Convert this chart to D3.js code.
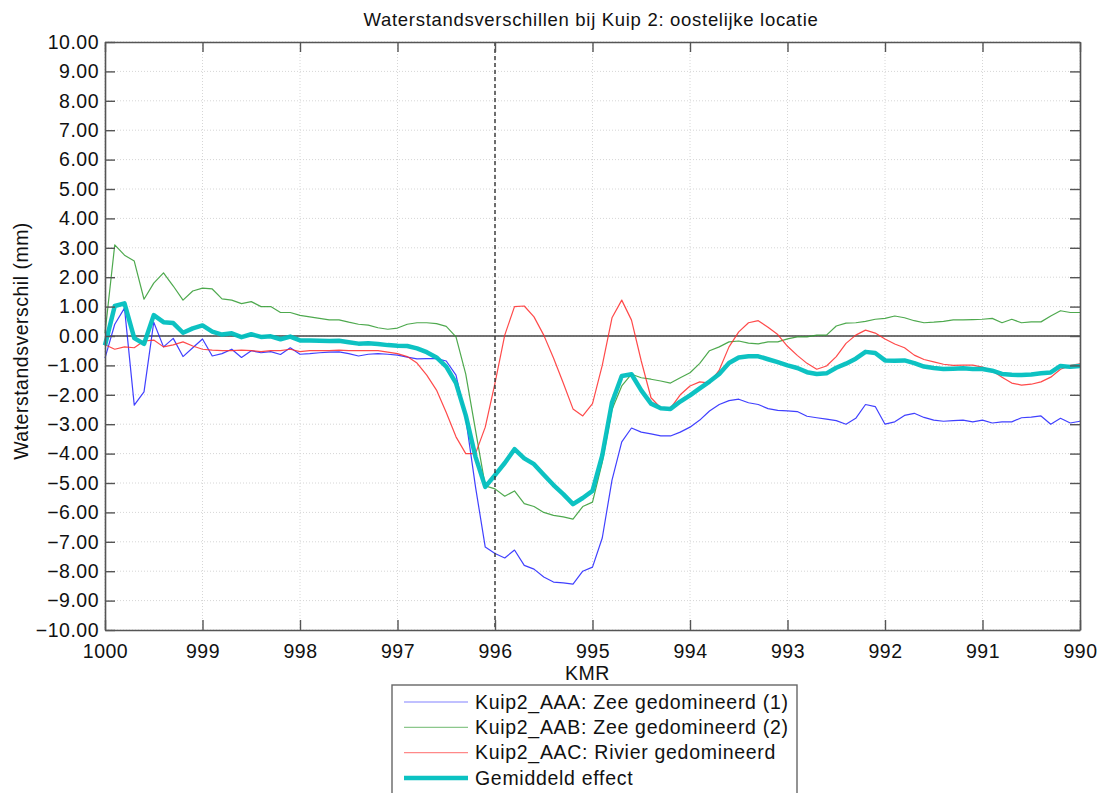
<!DOCTYPE html>
<html>
<head>
<meta charset="utf-8">
<script src="https://cdn.jsdelivr.net/npm/d3@7"></script>
<style>
    body { margin: 0; background: #fff; font-family: "Liberation Sans", Arial, sans-serif; }
    #chart-area { width: 1100px; height: 793px; }
</style>
</head>
<body>
<div id="chart-area"></div>
<script>
// Waterstandsverschillen Kuip 2 (step 0.1 km)
let kmr = [
    1000.0, 999.9, 999.8, 999.7, 999.6, 999.5, 999.4, 999.3, 999.2, 999.1,
    999.0, 998.9, 998.8, 998.7, 998.6, 998.5, 998.4, 998.3, 998.2, 998.1,
    998.0, 997.9, 997.8, 997.7, 997.6, 997.5, 997.4, 997.3, 997.2, 997.1,
    997.0, 996.9, 996.8, 996.7, 996.6, 996.5, 996.4, 996.3, 996.2, 996.1,
    996.0, 995.9, 995.8, 995.7, 995.6, 995.5, 995.4, 995.3, 995.2, 995.1,
    995.0, 994.9, 994.8, 994.7, 994.6, 994.5, 994.4, 994.3, 994.2, 994.1,
    994.0, 993.9, 993.8, 993.7, 993.6, 993.5, 993.4, 993.3, 993.2, 993.1,
    993.0, 992.9, 992.8, 992.7, 992.6, 992.5, 992.4, 992.3, 992.2, 992.1,
    992.0, 991.9, 991.8, 991.7, 991.6, 991.5, 991.4, 991.3, 991.2, 991.1,
    991.0, 990.9, 990.8, 990.7, 990.6, 990.5, 990.4, 990.3, 990.2, 990.1,
    990.0
];

let aaa = [
    -0.75, 0.4, 0.95, -2.35, -1.9, 0.47, -0.37, -0.08, -0.7, -0.4,
    -0.1, -0.68, -0.6, -0.45, -0.73, -0.5, -0.57, -0.53, -0.63, -0.4,
    -0.62, -0.6, -0.57, -0.55, -0.54, -0.6, -0.68, -0.62, -0.6, -0.62,
    -0.65, -0.72, -0.78, -0.77, -0.77, -0.85, -1.33, -2.8, -5.13, -7.18,
    -7.4, -7.55, -7.28, -7.8, -7.93, -8.2, -8.37, -8.4, -8.44, -8.0,
    -7.86, -6.87, -4.9, -3.6, -3.13, -3.27, -3.33, -3.4, -3.4, -3.27,
    -3.1, -2.86, -2.55, -2.33, -2.2, -2.15, -2.27, -2.33, -2.47, -2.53,
    -2.55, -2.57, -2.73, -2.78, -2.83, -2.88, -3.0, -2.8, -2.33, -2.4,
    -3.0, -2.92, -2.7, -2.63, -2.77, -2.86, -2.9, -2.88, -2.86, -2.92,
    -2.86, -2.96, -2.92, -2.92, -2.78, -2.76, -2.72, -3.0, -2.8, -2.96,
    -2.9
];

let aab = [
    0.1, 3.1, 2.75, 2.55, 1.25, 1.8, 2.15, 1.7, 1.22, 1.53,
    1.63, 1.6, 1.26, 1.22, 1.1, 1.17, 1.0, 1.0, 0.8, 0.8,
    0.7, 0.65, 0.6, 0.55, 0.55, 0.47, 0.4, 0.37, 0.28, 0.23,
    0.27, 0.4, 0.45, 0.45, 0.42, 0.33, -0.03, -1.3, -3.2, -5.1,
    -5.2, -5.45, -5.27, -5.7, -5.8, -6.0, -6.1, -6.15, -6.23, -5.8,
    -5.65, -4.3, -2.5, -1.7, -1.3, -1.42, -1.47, -1.53, -1.6, -1.42,
    -1.25, -0.93, -0.5, -0.37, -0.2, -0.17, -0.24, -0.27, -0.2, -0.2,
    -0.1, -0.03, -0.03, 0.03, 0.03, 0.34, 0.44, 0.45, 0.5, 0.57,
    0.6, 0.68, 0.62, 0.52, 0.45, 0.47, 0.5, 0.55, 0.55, 0.56,
    0.57, 0.6, 0.45, 0.57, 0.45, 0.48, 0.48, 0.68, 0.86, 0.8,
    0.8
];

let aac = [
    -0.3, -0.45, -0.37, -0.4, -0.17, -0.14, -0.37, -0.3, -0.2, -0.34,
    -0.45, -0.48, -0.5, -0.5, -0.48, -0.5, -0.53, -0.5, -0.5, -0.45,
    -0.53, -0.5, -0.5, -0.5, -0.48, -0.5, -0.5, -0.5, -0.5, -0.55,
    -0.6, -0.7, -0.92, -1.33, -1.84, -2.6, -3.43, -4.0, -4.0, -3.1,
    -1.6, 0.03, 1.0, 1.02, 0.65, 0.03, -0.75, -1.6, -2.48, -2.72,
    -2.3, -1.0, 0.62, 1.22, 0.54, -0.85, -2.1, -2.45, -2.45, -2.0,
    -1.7, -1.56, -1.6, -1.16, -0.37, 0.14, 0.45, 0.52, 0.3, 0.05,
    -0.35, -0.66, -0.93, -1.13, -1.02, -0.7, -0.25, 0.03, 0.2, 0.1,
    -0.1, -0.27, -0.4, -0.65, -0.8, -0.88, -0.96, -1.0, -0.99, -0.99,
    -1.06, -1.18, -1.4, -1.6, -1.67, -1.64, -1.56, -1.4, -1.13, -1.0,
    -0.95
];

let gemiddeld = [
    -0.32, 1.02, 1.11, -0.07, -0.27, 0.71, 0.47, 0.44, 0.11, 0.26,
    0.36, 0.15, 0.05, 0.09, -0.04, 0.06, -0.03, -0.01, -0.11, -0.02,
    -0.15, -0.15, -0.16, -0.17, -0.16, -0.21, -0.26, -0.25, -0.27, -0.31,
    -0.33, -0.34, -0.42, -0.55, -0.73, -1.04, -1.6, -2.7, -4.11, -5.13,
    -4.73, -4.32, -3.85, -4.16, -4.36, -4.72, -5.07, -5.38, -5.72, -5.51,
    -5.27, -4.06, -2.26, -1.36, -1.3, -1.85, -2.3, -2.46, -2.48, -2.23,
    -2.02, -1.78, -1.55, -1.29, -0.92, -0.73, -0.69, -0.69, -0.79, -0.89,
    -1.0, -1.09, -1.23, -1.29, -1.27, -1.08, -0.94, -0.77, -0.54, -0.58,
    -0.83, -0.84, -0.83, -0.92, -1.04, -1.09, -1.12, -1.11, -1.1, -1.12,
    -1.12, -1.18, -1.29, -1.32, -1.33, -1.31, -1.27, -1.24, -1.02, -1.05,
    -1.02
];

let xTicks = [1000, 999, 998, 997, 996, 995, 994, 993, 992, 991, 990];
let yTicks = [-10, -9, -8, -7, -6, -5, -4, -3, -2, -1, 0, 1, 2, 3, 4, 5, 6, 7, 8, 9, 10];
let seriesNames = [
    "Kuip2_AAA: Zee gedomineerd (1)",
    "Kuip2_AAB: Zee gedomineerd (2)",
    "Kuip2_AAC: Rivier gedomineerd",
    "Gemiddeld effect"
];
let seriesColors = ["#1f1fff", "#2f9a2f", "#ff2a2a", "#00bfbf"];
let seriesWidths = [1.2, 1.2, 1.2, 4.5];

class LineChart {
    constructor(parentElement) {
        this.parentElement = parentElement;
        this.series = [aaa, aab, aac, gemiddeld];
        this.initVis();
    }

    initVis() {
        let vis = this;

        vis.margin = { top: 42, right: 20, bottom: 163, left: 105 };
        vis.width = 1100 - vis.margin.left - vis.margin.right;
        vis.height = 793 - vis.margin.top - vis.margin.bottom;

        vis.root = d3.select("#" + vis.parentElement).append("svg")
            .attr("width", 1100)
            .attr("height", 793);

        vis.svg = vis.root.append("g")
            .attr("transform", `translate(${vis.margin.left}, ${vis.margin.top})`);

        vis.x = d3.scaleLinear().domain([1000, 990]).range([0, vis.width]);
        vis.y = d3.scaleLinear().domain([-10, 10]).range([vis.height, 0]);

        // dotted grid
        vis.svg.append("g").attr("class", "grid")
            .selectAll("line.gy").data(yTicks).enter().append("line")
            .attr("x1", 0).attr("x2", vis.width)
            .attr("y1", d => vis.y(d)).attr("y2", d => vis.y(d))
            .attr("stroke", "#d6d6d6").attr("stroke-dasharray", "1,2");
        vis.svg.select(".grid")
            .selectAll("line.gx").data(xTicks).enter().append("line")
            .attr("x1", d => vis.x(d)).attr("x2", d => vis.x(d))
            .attr("y1", 0).attr("y2", vis.height)
            .attr("stroke", "#d6d6d6").attr("stroke-dasharray", "1,2");

        // zero line
        vis.svg.append("line")
            .attr("x1", 0).attr("x2", vis.width)
            .attr("y1", vis.y(0)).attr("y2", vis.y(0))
            .attr("stroke", "#444").attr("stroke-width", 1.6);

        // series
        vis.line = d3.line()
            .x((d, i) => vis.x(kmr[i]))
            .y(d => vis.y(d));

        vis.svg.selectAll(".series")
            .data(vis.series)
            .enter().append("path")
            .attr("class", "series")
            .attr("d", d => vis.line(d))
            .attr("fill", "none")
            .attr("stroke", (d, i) => seriesColors[i])
            .attr("stroke-width", (d, i) => seriesWidths[i])
            .attr("stroke-linejoin", "round")
            .attr("opacity", (d, i) => i === 3 ? 0.95 : 0.85);

        // dashed marker at km 996
        vis.svg.append("line")
            .attr("x1", vis.x(996)).attr("x2", vis.x(996))
            .attr("y1", 0).attr("y2", vis.height)
            .attr("stroke", "#333").attr("stroke-width", 1.4)
            .attr("stroke-dasharray", "4,3");

        // axes with inward ticks on all sides
        let fmt = d3.format(".2f");
        vis.svg.append("g")
            .attr("class", "y-axis")
            .call(d3.axisLeft(vis.y).tickValues(yTicks).tickFormat(fmt).tickSizeInner(-10).tickSizeOuter(0).tickPadding(6));
        vis.svg.append("g")
            .attr("class", "y-axis-r")
            .attr("transform", `translate(${vis.width},0)`)
            .call(d3.axisRight(vis.y).tickValues(yTicks).tickFormat("").tickSizeInner(-10).tickSizeOuter(0));
        vis.svg.append("g")
            .attr("class", "x-axis")
            .attr("transform", `translate(0,${vis.height})`)
            .call(d3.axisBottom(vis.x).tickValues(xTicks).tickFormat(d3.format("d")).tickSizeInner(-10).tickSizeOuter(0).tickPadding(10));
        vis.svg.append("g")
            .attr("class", "x-axis-t")
            .call(d3.axisTop(vis.x).tickValues(xTicks).tickFormat("").tickSizeInner(-10).tickSizeOuter(0));

        vis.svg.selectAll(".domain").attr("stroke", "#555").attr("stroke-width", 1.6);
        vis.svg.selectAll(".tick line").attr("stroke", "#555").attr("stroke-width", 1.4);
        vis.svg.selectAll(".tick text")
            .style("font-size", "19.5px")
            .style("letter-spacing", "0.5px")
            .style("font-family", "Liberation Sans, Arial, sans-serif")
            .attr("fill", "#111");
        vis.svg.selectAll(".x-axis .tick text").attr("dy", "0.9em");

        // title
        vis.root.append("text")
            .attr("x", 591).attr("y", 26)
            .attr("text-anchor", "middle")
            .style("font-size", "18.5px")
            .style("letter-spacing", "0.7px")
            .attr("fill", "#111")
            .text("Waterstandsverschillen bij Kuip 2: oostelijke locatie");

        // axis labels
        vis.root.append("text")
            .attr("x", vis.margin.left + vis.width / 2 - 5).attr("y", 680)
            .attr("text-anchor", "middle")
            .style("font-size", "19.5px")
            .style("letter-spacing", "0.5px")
            .attr("fill", "#111")
            .text("KMR");

        vis.root.append("text")
            .attr("transform", "rotate(-90)")
            .attr("x", -341).attr("y", 28)
            .attr("text-anchor", "middle")
            .style("font-size", "19.5px")
            .style("letter-spacing", "0.5px")
            .attr("fill", "#111")
            .text("Waterstandsverschil (mm)");

        // legend
        let legend = vis.root.append("g").attr("class", "legend");
        legend.append("rect")
            .attr("x", 392).attr("y", 685)
            .attr("width", 405).attr("height", 120)
            .attr("fill", "#fff").attr("stroke", "#666").attr("stroke-width", 1.4);

        let items = legend.selectAll(".item")
            .data(seriesNames)
            .enter().append("g")
            .attr("class", "item")
            .attr("transform", (d, i) => `translate(0, ${702 + i * 25.3})`);

        items.append("line")
            .attr("x1", 404).attr("x2", 468)
            .attr("stroke", (d, i) => seriesColors[i])
            .attr("stroke-width", (d, i) => i === 3 ? 4.5 : 1.2)
            .attr("opacity", (d, i) => i === 3 ? 0.95 : 0.55);

        items.append("text")
            .attr("x", 475).attr("dy", "0.35em")
            .style("font-size", "19.5px")
            .style("letter-spacing", "0.7px")
            .attr("fill", "#111")
            .text(d => d);
    }
}

new LineChart("chart-area");
</script>
</body>
</html>
